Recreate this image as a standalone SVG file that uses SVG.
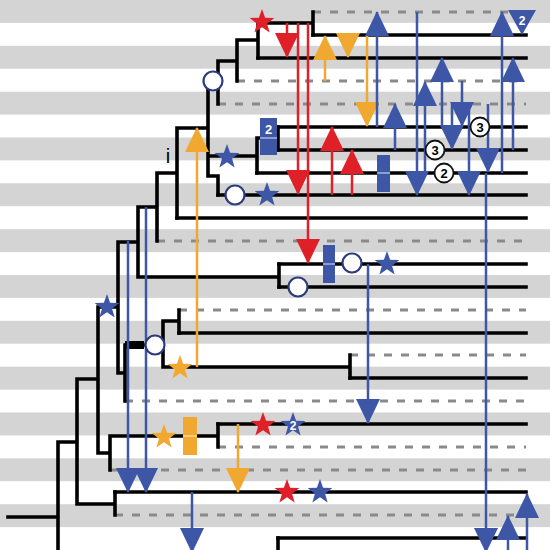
<svg xmlns="http://www.w3.org/2000/svg" width="550" height="550" viewBox="0 0 550 550">
<defs>
<style>
.band{fill:#d4d4d4}
.br{stroke:#000;stroke-width:3.6;fill:none;stroke-linecap:square}
.ds{stroke:#8a8a8a;stroke-width:3;stroke-dasharray:8 9;fill:none}
.ab{stroke:#3d56a6;stroke-width:2.5;fill:none;marker-end:url(#mb)}
.ar{stroke:#e02028;stroke-width:2.5;fill:none;marker-end:url(#mr)}
.ay{stroke:#f0a830;stroke-width:2.5;fill:none;marker-end:url(#my)}
.cir{fill:#fff;stroke:#2c3b7c;stroke-width:2.2}
.num{fill:#fff;stroke:#111;stroke-width:1.8}
.nt{font-family:'Liberation Sans',Arial,sans-serif;font-weight:bold;font-size:13px;text-anchor:middle}
</style>
<marker id="mb" markerUnits="userSpaceOnUse" markerWidth="25" markerHeight="25" viewBox="0 0 25 25" refX="24" refY="12.5" orient="auto"><path d="M0,0.5 L25,12.5 L0,24.5 z" fill="#3d56a6"/></marker>
<marker id="mr" markerUnits="userSpaceOnUse" markerWidth="25" markerHeight="25" viewBox="0 0 25 25" refX="24" refY="12.5" orient="auto"><path d="M0,0.5 L25,12.5 L0,24.5 z" fill="#e02028"/></marker>
<marker id="my" markerUnits="userSpaceOnUse" markerWidth="25" markerHeight="25" viewBox="0 0 25 25" refX="24" refY="12.5" orient="auto"><path d="M0,0.5 L25,12.5 L0,24.5 z" fill="#f0a830"/></marker>
<path id="star" d="M0,-13 L3.12,-4.3 L12.36,-4.02 L5.06,1.64 L7.64,10.52 L0,5.32 L-7.64,10.52 L-5.06,1.64 L-12.36,-4.02 L-3.12,-4.3 Z"/>
</defs>
<rect width="550" height="550" fill="#fff"/>
<g id="bands">
<rect class="band" x="0" y="0" width="550" height="22.9"/>
<rect class="band" x="0" y="45.8" width="550" height="22.9"/>
<rect class="band" x="0" y="91.7" width="550" height="22.9"/>
<rect class="band" x="0" y="137.5" width="550" height="22.9"/>
<rect class="band" x="0" y="183.3" width="550" height="22.9"/>
<rect class="band" x="0" y="229.2" width="550" height="22.9"/>
<rect class="band" x="0" y="275" width="550" height="22.9"/>
<rect class="band" x="0" y="320.8" width="550" height="22.9"/>
<rect class="band" x="0" y="366.7" width="550" height="22.9"/>
<rect class="band" x="0" y="412.5" width="550" height="22.9"/>
<rect class="band" x="0" y="458.3" width="550" height="22.9"/>
<rect class="band" x="0" y="504.2" width="550" height="22.9"/>
</g>
<g id="tips">
<line class="ds" x1="313" y1="12" x2="526" y2="12"/>
<line class="br" x1="313" y1="35" x2="526" y2="35"/>
<line class="br" x1="258" y1="58" x2="526" y2="58"/>
<line class="ds" x1="237" y1="81" x2="526" y2="81"/>
<line class="ds" x1="218" y1="104" x2="526" y2="104"/>
<line class="br" x1="278" y1="127" x2="526" y2="127"/>
<line class="br" x1="278" y1="150" x2="526" y2="150"/>
<line class="br" x1="257" y1="173" x2="526" y2="173"/>
<line class="br" x1="218" y1="195" x2="526" y2="195"/>
<line class="br" x1="177" y1="218" x2="526" y2="218"/>
<line class="ds" x1="157" y1="241" x2="526" y2="241"/>
<line class="br" x1="279" y1="264" x2="526" y2="264"/>
<line class="br" x1="279" y1="287" x2="526" y2="287"/>
<line class="ds" x1="179" y1="310" x2="526" y2="310"/>
<line class="br" x1="179" y1="333" x2="526" y2="333"/>
<line class="ds" x1="350" y1="355" x2="526" y2="355"/>
<line class="br" x1="350" y1="378" x2="526" y2="378"/>
<line class="ds" x1="125" y1="401" x2="526" y2="401"/>
<line class="br" x1="218" y1="424" x2="526" y2="424"/>
<line class="ds" x1="218" y1="447" x2="526" y2="447"/>
<line class="ds" x1="110" y1="470" x2="526" y2="470"/>
<line class="br" x1="115" y1="492" x2="526" y2="492"/>
<line class="ds" x1="115" y1="515" x2="526" y2="515"/>
<line class="br" x1="278" y1="538" x2="526" y2="538"/>
</g>
<g id="tree">
<path class="br" d="M313,12 V35 M258,23 H313 M258,23 V58 M237,40 H258 M237,40 V81 M218,61 H237 M218,61 V104 M208,81 H218 M208,81 V176 H218 V195 M177,128 H208 M208,156 H257 M257,138 V173 M257,138 H278 M278,127 V150 M177,128 V218 M157,173 H177 M157,173 V241 M138,207 H157 M138,207 V277 H279 M279,264 V287 M118,242 H138 M118,242 V373 H125 M98,307 H118 M98,307 V453 H110 M125,345 V401 M125,345 H163 M163,321 V367 H350 M163,321 H179 M179,310 V333 M350,355 V378 M110,436 V470 M110,436 H218 M218,424 V447 M77,379 H98 M77,379 V504 H115 M115,492 V515 M58,442 H77 M58,442 V560 M8,517 H58 M278,538 V560"/>
<rect x="125" y="341" width="19" height="8" fill="#000"/>
<text x="168" y="163" font-family="'Liberation Sans',Arial,sans-serif" font-size="20" fill="#000" text-anchor="middle">i</text>
</g>
<g id="connectors">
<line class="ar" x1="287" y1="23" x2="287" y2="57"/>
<line class="ar" x1="298" y1="23" x2="298" y2="194"/>
<line class="ar" x1="308" y1="23" x2="308" y2="263"/>
<line class="ar" x1="332" y1="195" x2="332" y2="127"/>
<line class="ar" x1="352" y1="195" x2="352" y2="150"/>
<line class="ay" x1="325" y1="81" x2="325" y2="36"/>
<line class="ay" x1="348" y1="35" x2="348" y2="57"/>
<line class="ay" x1="367" y1="35" x2="367" y2="126"/>
<line class="ay" x1="197" y1="367" x2="197" y2="128"/>
<line class="ay" x1="238" y1="424" x2="238" y2="492"/>
<line class="ab" x1="377" y1="127" x2="377" y2="12"/>
<line class="ab" x1="417" y1="12" x2="417" y2="195"/>
<line class="ab" x1="502" y1="173" x2="502" y2="12"/>
<line class="ab" x1="513" y1="150" x2="513" y2="58"/>
<line class="ab" x1="442" y1="127" x2="442" y2="58"/>
<line class="ab" x1="425" y1="173" x2="425" y2="82"/>
<line class="ab" x1="395" y1="150" x2="395" y2="104"/>
<line class="ab" x1="462" y1="81" x2="462" y2="126"/>
<line class="ab" x1="452" y1="104" x2="452" y2="149"/>
<line class="ab" x1="469" y1="104" x2="469" y2="195"/>
<line class="ab" x1="488" y1="104" x2="488" y2="172"/>
<line class="ab" x1="486" y1="173" x2="486" y2="552"/>
<line class="ab" x1="368" y1="264" x2="368" y2="423"/>
<line class="ab" x1="146" y1="207" x2="146" y2="492"/>
<line class="ab" x1="128" y1="241" x2="128" y2="492"/>
<line class="ab" x1="192" y1="492" x2="192" y2="552"/>
<line class="ab" x1="527" y1="570" x2="527" y2="494"/>
<line class="ab" x1="508" y1="570" x2="508" y2="516"/>
<polygon points="508,10 536,10 522,35" fill="#3d56a6"/>
<text x="522" y="25" font-family="'Liberation Sans',Arial,sans-serif" font-weight="bold" font-size="12" fill="#fff" text-anchor="middle">2</text>
</g>
<g id="markers">
<use href="#star" x="262" y="22" fill="#e02028"/>
<use href="#star" x="227" y="157" fill="#3d56a6"/>
<use href="#star" x="267" y="195" fill="#3d56a6"/>
<use href="#star" x="107" y="307" fill="#3d56a6"/>
<use href="#star" x="387" y="264" fill="#3d56a6"/>
<use href="#star" x="180" y="368" fill="#f0a830"/>
<use href="#star" x="164" y="437" fill="#f0a830"/>
<use href="#star" x="263" y="425" fill="#e02028"/>
<use href="#star" x="293" y="425" fill="#3d56a6"/>
<text x="293" y="430" font-family="'Liberation Sans',Arial,sans-serif" font-weight="bold" font-size="12" fill="#fff" text-anchor="middle">2</text>
<use href="#star" x="287" y="492" fill="#e02028"/>
<use href="#star" x="320" y="492" fill="#3d56a6"/>
<circle class="cir" cx="213" cy="81" r="9.5"/>
<circle class="cir" cx="235" cy="195" r="9.5"/>
<circle class="cir" cx="352" cy="263" r="9.5"/>
<circle class="cir" cx="298" cy="287" r="9.5"/>
<circle class="cir" cx="155" cy="345" r="9.5"/>
<rect x="260" y="118" width="17" height="37" fill="#3d56a6"/>
<line x1="260" y1="138" x2="277" y2="138" stroke="#a9b6dc" stroke-width="1.5"/>
<text x="268.5" y="134" font-family="'Liberation Sans',Arial,sans-serif" font-weight="bold" font-size="13" fill="#fff" text-anchor="middle">2</text>
<rect x="377" y="155" width="13" height="37" fill="#3d56a6"/>
<line x1="377" y1="173" x2="390" y2="173" stroke="#a9b6dc" stroke-width="1.5"/>
<rect x="323" y="245" width="12" height="38" fill="#3d56a6"/>
<line x1="323" y1="264" x2="335" y2="264" stroke="#a9b6dc" stroke-width="1.5"/>
<rect x="183" y="417" width="14" height="38" fill="#f0a830"/>
<line x1="183" y1="436" x2="197" y2="436" stroke="#f8dc9c" stroke-width="1.5"/>
<circle class="num" cx="480" cy="127" r="9.5"/>
<text class="nt" x="480" y="132">3</text>
<circle class="num" cx="435" cy="150" r="9.5"/>
<text class="nt" x="435" y="155">3</text>
<circle class="num" cx="444" cy="173" r="9.5"/>
<text class="nt" x="444" y="178">2</text>
</g>
</svg>
